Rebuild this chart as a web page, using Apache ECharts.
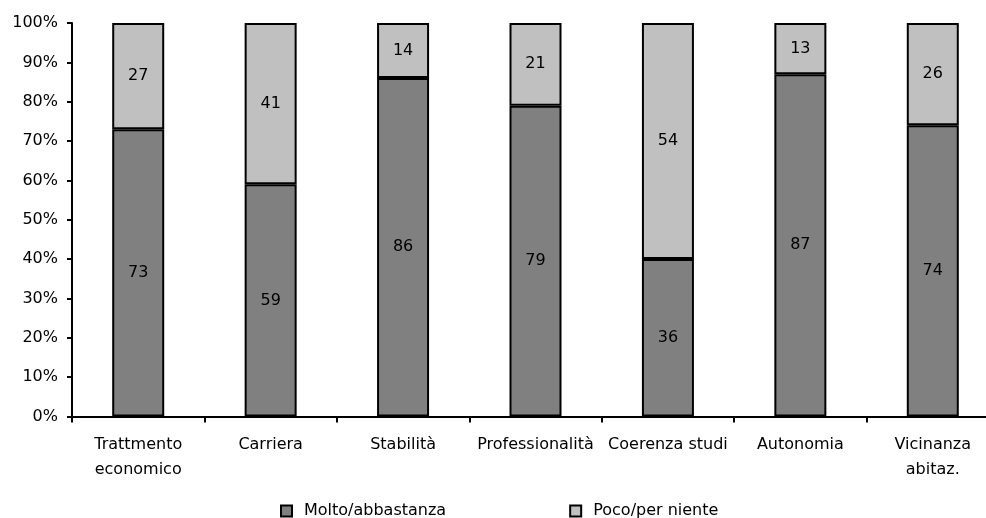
<!DOCTYPE html>
<html>
<head>
<meta charset="utf-8">
<script src="https://cdn.jsdelivr.net/npm/echarts@6/dist/echarts.min.js"></script>
<style>
html,body{margin:0;padding:0;background:#fff;}
#chart{width:986px;height:518px;}
</style>
</head>
<body>
<div id="chart"></div>
<script>
const categories = ['Trattmento\neconomico','Carriera','Stabilità','Professionalità','Coerenza studi','Autonomia','Vicinanza\nabitaz.'];
const molto = [73, 59, 86, 79, 36, 87, 74];
const poco = [27, 41, 14, 21, 54, 13, 26];
const yTicks = [0,10,20,30,40,50,60,70,80,90,100];

const FONT = 'DejaVu Sans';
// 100% stacked: share of each answer within its category
const share = (arr, i) => arr[i] / (molto[i] + poco[i]) * 100;
const moltoShare = molto.map((v, i) => share(molto, i));
const pocoShare = poco.map((v, i) => share(poco, i));

const chart = echarts.init(document.getElementById('chart'), null, {renderer:'canvas'});
const labelStyle = {
  show: true, position: 'inside', color: '#000',
  fontFamily: FONT, fontSize: 16
};
chart.setOption({
  animation: false,
  backgroundColor: '#ffffff',
  grid: {left: 72, width: 927, top: 23, height: 393.5, containLabel: false, outerBoundsMode: 'none'},
  legend: {
    left: 280, top: 503, padding: 0,
    itemWidth: 11, itemHeight: 11, itemGap: 123,
    icon: 'rect',
    textStyle: {fontFamily: FONT, fontSize: 16, color: '#000', padding: [0,0,0,7]},
    data: ['Molto/abbastanza', 'Poco/per niente']
  },
  xAxis: {
    type: 'category',
    data: categories,
    axisLine: {lineStyle: {color: '#000', width: 2}},
    axisTick: {show: true, length: 6, lineStyle: {color: '#000', width: 2}},
    axisLabel: {fontFamily: FONT, fontSize: 16, color: '#000', margin: 16, lineHeight: 25, interval: 0}
  },
  yAxis: {
    type: 'value', min: 0, max: 100, interval: 10,
    axisLine: {show: true, lineStyle: {color: '#000', width: 2}},
    axisTick: {show: true, length: 5, lineStyle: {color: '#000', width: 2}},
    splitLine: {show: false},
    axisLabel: {fontFamily: FONT, fontSize: 16, color: '#000', margin: 14,
      formatter: v => yTicks.includes(v) ? v + '%' : ''}
  },
  series: [
    {
      name: 'Molto/abbastanza', type: 'bar', stack: 'tot', barWidth: 52,
      itemStyle: {color: '#808080', borderColor: '#000', borderWidth: 2},
      label: Object.assign({formatter: p => String(molto[p.dataIndex])}, labelStyle),
      data: moltoShare
    },
    {
      name: 'Poco/per niente', type: 'bar', stack: 'tot', barWidth: 52,
      itemStyle: {color: '#c0c0c0', borderColor: '#000', borderWidth: 2},
      label: Object.assign({formatter: p => String(poco[p.dataIndex])}, labelStyle),
      data: pocoShare
    }
  ]
});
</script>
</body>
</html>
